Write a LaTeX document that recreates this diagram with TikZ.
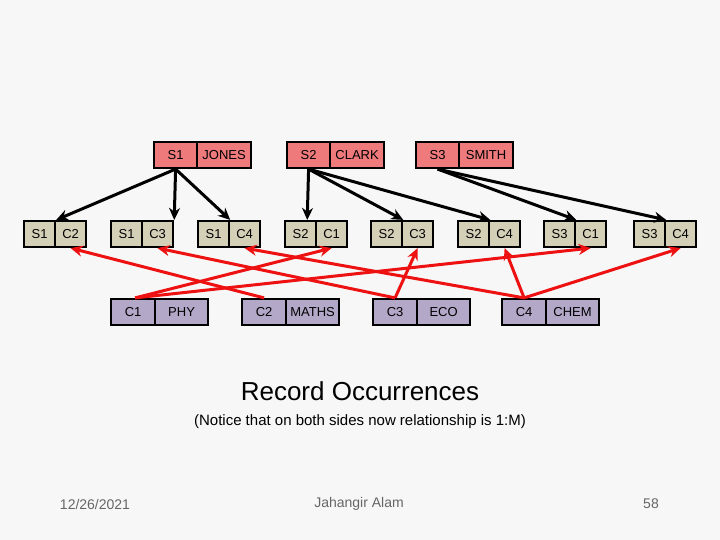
\documentclass[tikz,border=0pt]{standalone}
\usepackage{fontspec}
\setmainfont{Liberation Sans}
\usetikzlibrary{arrows.meta}
\definecolor{bg}{HTML}{F7F7F7}
\definecolor{pinkc}{HTML}{EE7A7C}
\definecolor{tanc}{HTML}{D4D0B8}
\definecolor{purc}{HTML}{B4A8C8}
\definecolor{redl}{HTML}{EE1111}
\begin{document}
\begin{tikzpicture}[x=1pt,y=-1pt,
  cell/.style={draw=black,line width=2.2pt,minimum height=26pt,inner sep=0pt,font=\fontsize{13}{13}\selectfont},
  pinkcell/.style={cell,fill=pinkc},
  tancell/.style={cell,fill=tanc,minimum width=31pt},
  purcell/.style={cell,fill=purc},
  blk/.style={-{Stealth[length=12pt,width=11pt]},line width=3pt},
  rd/.style={-{Stealth[length=12pt,width=11pt]},line width=3pt,draw=redl}]
\fill[bg] (0,0) rectangle (720,540);
\useasboundingbox (0,0) rectangle (720,540);
% top records
\foreach \n/\k/\v/\x in {t1/S1/JONES/153,t2/S2/CLARK/286,t3/S3/SMITH/415}{
  \node[pinkcell,minimum width=43pt,anchor=west] (\n a) at (\x,155) {\k};
  \node[pinkcell,minimum width=54pt,anchor=west] (\n b) at (\x+43,155) {\v};
}
% middle records
\foreach \n/\a/\b/\x in {m1/S1/C2/23,m2/S1/C3/110,m3/S1/C4/197,m4/S2/C1/284,m5/S2/C3/370,m6/S2/C4/457,m7/S3/C1/543,m8/S3/C4/633}{
  \node[tancell,anchor=west] (\n a) at (\x,234) {\a};
  \node[tancell,anchor=west] (\n b) at (\x+31,234) {\b};
}
% bottom records
\foreach \n/\k/\v/\x in {b1/C1/PHY/110,b2/C2/MATHS/241,b3/C3/ECO/372,b4/C4/CHEM/501}{
  \node[purcell,minimum width=44pt,anchor=west] (\n a) at (\x,312) {\k};
  \node[purcell,minimum width=53pt,anchor=west] (\n b) at (\x+44,312) {\v};
}
% black arrows
\foreach \t in {m1a,m2b,m3a} \draw[blk] (t1a.south) -- (\t.north east);
\draw[blk] (t2a.south) -- ([xshift=-10pt]m4a.north east);
\draw[blk] (t2a.south) -- (m5a.north east);
\draw[blk] (t2a.south) -- (m6a.north east);
\draw[blk] (t3a.south) -- (m7a.north east);
\draw[blk] (t3a.south) -- (m8a.north east);
% red arrows
\draw[rd] ([xshift=2pt]b1a.north) -- (m4b.south);
\draw[rd] ([xshift=2pt]b1a.north) -- (m7b.south);
\draw[rd] (b2a.north) -- (m1b.south);
\draw[rd] (b3a.north) -- (m2b.south);
\draw[rd] (b3a.north) -- (m5b.south);
\draw[rd] (b4a.north) -- (m3b.south);
\draw[rd] (b4a.north) -- (m6b.south);
\draw[rd] (b4a.north) -- (m8b.south);
% texts
\node[font=\fontsize{26}{26}\selectfont] (title) at (360,391) {Record Occurrences};
\node[font=\fontsize{15}{15}\selectfont] (note) at (360,422) {(Notice that on both sides now relationship is 1:M)};
\node[font=\fontsize{14}{14}\selectfont,text=gray!80!black] (date) at (95,504) {12/26/2021};
\node[font=\fontsize{14}{14}\selectfont,text=gray!80!black] (auth) at (359,504) {Jahangir Alam};
\node[font=\fontsize{14}{14}\selectfont,text=gray!80!black] (pg) at (651,504) {58};
\end{tikzpicture}
\end{document}
